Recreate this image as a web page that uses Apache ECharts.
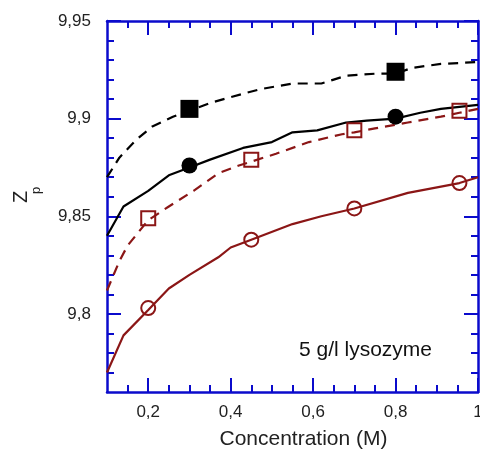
<!DOCTYPE html>
<html>
<head>
<meta charset="utf-8">
<script src="https://cdn.jsdelivr.net/npm/echarts@6/dist/echarts.min.js"></script>
<style>html,body{margin:0;padding:0;background:#fff;}#c{width:480px;height:451px;}</style>
</head>
<body>
<div id="c"></div>
<script>
// ---- data ----
const blackDashX = [0.10,0.13,0.17,0.21,0.26,0.30,0.35,0.40,0.47,0.55,0.62,0.65,0.68,0.75,0.80,0.84,0.91,1.00];
const blackDashY = [9.870,9.880,9.889,9.896,9.901,9.904,9.908,9.911,9.915,9.918,9.918,9.920,9.922,9.923,9.923,9.926,9.928,9.929];

const blackSolidX = [0.10,0.14,0.20,0.25,0.30,0.35,0.43,0.50,0.55,0.61,0.68,0.73,0.80,0.86,0.91,1.00];
const blackSolidY = [9.840,9.855,9.863,9.871,9.875,9.879,9.885,9.888,9.893,9.894,9.898,9.899,9.900,9.903,9.905,9.907];

const redDashX = [0.10,0.13,0.15,0.20,0.25,0.31,0.37,0.42,0.45,0.51,0.59,0.67,0.70,0.75,0.83,0.91,0.955,1.00];
const redDashY = [9.812,9.827,9.835,9.848,9.855,9.863,9.872,9.876,9.878,9.882,9.888,9.892,9.893,9.895,9.898,9.901,9.903,9.905];

const redSolidX = [0.10,0.14,0.20,0.25,0.30,0.37,0.40,0.45,0.55,0.62,0.70,0.83,0.955,1.00];
const redSolidY = [9.770,9.789,9.802,9.813,9.820,9.829,9.834,9.838,9.846,9.850,9.854,9.862,9.867,9.870];

const fillSquareX = [0.30,0.80];
const fillSquareY = [9.905,9.924];
const fillCircleX = [0.30,0.80];
const fillCircleY = [9.876,9.901];
const openSquareX = [0.20,0.45,0.70,0.955];
const openSquareY = [9.849,9.879,9.894,9.904];
const openCircleX = [0.20,0.45,0.70,0.955];
const openCircleY = [9.803,9.838,9.854,9.867];

const xMajorTicks = [0.2,0.4,0.6,0.8,1.0];
const xMinorTicks = [0.15,0.25,0.3,0.35,0.45,0.5,0.55,0.65,0.7,0.75,0.85,0.9,0.95];
const yMajorTicks = [9.8,9.85,9.9,9.95];
const yMinorTicks = [9.77,9.78,9.79,9.81,9.82,9.83,9.84,9.86,9.87,9.88,9.89,9.91,9.92,9.93,9.94];

const xTitle = 'Concentration (M)';
const annotation = '5 g/l lysozyme';

// ---- styles ----
const BLUE = '#0b0bcc';
const RED = '#8b1616';
const FONT = '"Liberation Sans", Arial, sans-serif';
const XMIN = 0.1, XMAX = 1.0, YMIN = 9.76, YMAX = 9.95;

function zip(xs, ys) { return xs.map((x, i) => [x, ys[i]]); }
function fmt(v) { return String(+(+v).toFixed(2)).replace('.', ','); }

function xAx(pos, ticks, len, main) {
  return {
    type: 'value', position: pos, min: XMIN, max: XMAX,
    axisLine: { show: main, onZero: false, lineStyle: { color: BLUE, width: 2.5 } },
    axisTick: { show: true, inside: true, length: len, customValues: ticks, lineStyle: { color: BLUE, width: 2 } },
    axisLabel: { show: false },
    splitLine: { show: false }
  };
}
function yAx(pos, ticks, len, main) {
  return {
    type: 'value', position: pos, min: YMIN, max: YMAX,
    axisLine: { show: main, onZero: false, lineStyle: { color: BLUE, width: 2.5 } },
    axisTick: { show: true, inside: true, length: len, customValues: ticks, lineStyle: { color: BLUE, width: 2 } },
    axisLabel: { show: false },
    splitLine: { show: false }
  };
}

const xBottom = xAx('bottom', xMajorTicks, 14, true);
xBottom.axisLabel = { show: true, customValues: xMajorTicks, formatter: fmt, margin: 12, fontSize: 17, color: '#222', fontFamily: FONT };
xBottom.name = xTitle;
xBottom.nameLocation = 'middle';
xBottom.nameGap = 37;
xBottom.nameTextStyle = { fontSize: 21, color: '#222', fontFamily: FONT, padding: [0, 0, 0, 22] };

const yLeft = yAx('left', yMajorTicks, 14, true);
yLeft.axisLabel = { show: true, customValues: yMajorTicks, formatter: fmt, margin: 16, fontSize: 17, color: '#222', fontFamily: FONT };

const chart = echarts.init(document.getElementById('c'), null, { renderer: 'canvas' });
chart.setOption({
  animation: false,
  backgroundColor: '#fff',
  grid: { left: 107, top: 21, right: 2, bottom: 59, containLabel: false, outerBoundsMode: 'none' },
  xAxis: [
    xBottom,
    xAx('bottom', xMinorTicks, 7, false),
    xAx('top', xMajorTicks, 14, true),
    xAx('top', xMinorTicks, 7, false)
  ],
  yAxis: [
    yLeft,
    yAx('left', yMinorTicks, 7, false),
    yAx('right', yMajorTicks, 14, true),
    yAx('right', yMinorTicks, 7, false)
  ],
  graphic: [
    { type: 'text', x: 21, y: 197, rotation: Math.PI / 2,
      style: { text: 'Z', fontSize: 20, fontFamily: FONT, fill: '#222', align: 'center', verticalAlign: 'middle' } },
    { type: 'text', x: 36.5, y: 190.5, rotation: Math.PI / 2,
      style: { text: 'p', fontSize: 13, fontFamily: FONT, fill: '#222', align: 'center', verticalAlign: 'middle' } },
    { type: 'text', x: 365.5, y: 350,
      style: { text: annotation, fontSize: 21, fontFamily: FONT, fill: '#111', align: 'center', verticalAlign: 'middle' } }
  ],
  series: [
    { type: 'line', data: zip(blackDashX, blackDashY), showSymbol: false, symbol: 'none',
      lineStyle: { color: '#000', width: 2.2, type: [10, 7] }, z: 2 },
    { type: 'line', data: zip(blackSolidX, blackSolidY), showSymbol: false, symbol: 'none',
      lineStyle: { color: '#000', width: 2.2 }, z: 2 },
    { type: 'line', data: zip(redDashX, redDashY), showSymbol: false, symbol: 'none',
      lineStyle: { color: RED, width: 2.2, type: [10, 7] }, z: 2 },
    { type: 'line', data: zip(redSolidX, redSolidY), showSymbol: false, symbol: 'none',
      lineStyle: { color: RED, width: 2.2 }, z: 2 },
    { type: 'scatter', data: zip(fillSquareX, fillSquareY), symbol: 'rect', symbolSize: 18,
      itemStyle: { color: '#000', opacity: 1 }, z: 3 },
    { type: 'scatter', data: zip(fillCircleX, fillCircleY), symbol: 'circle', symbolSize: 16,
      itemStyle: { color: '#000', opacity: 1 }, z: 3 },
    { type: 'scatter', data: zip(openSquareX, openSquareY), symbol: 'rect', symbolSize: 14,
      itemStyle: { color: 'rgba(0,0,0,0)', borderColor: RED, borderWidth: 2, opacity: 1 }, z: 3 },
    { type: 'scatter', data: zip(openCircleX, openCircleY), symbol: 'circle', symbolSize: 14,
      itemStyle: { color: 'rgba(0,0,0,0)', borderColor: RED, borderWidth: 2, opacity: 1 }, z: 3 }
  ]
});
</script>
</body>
</html>
